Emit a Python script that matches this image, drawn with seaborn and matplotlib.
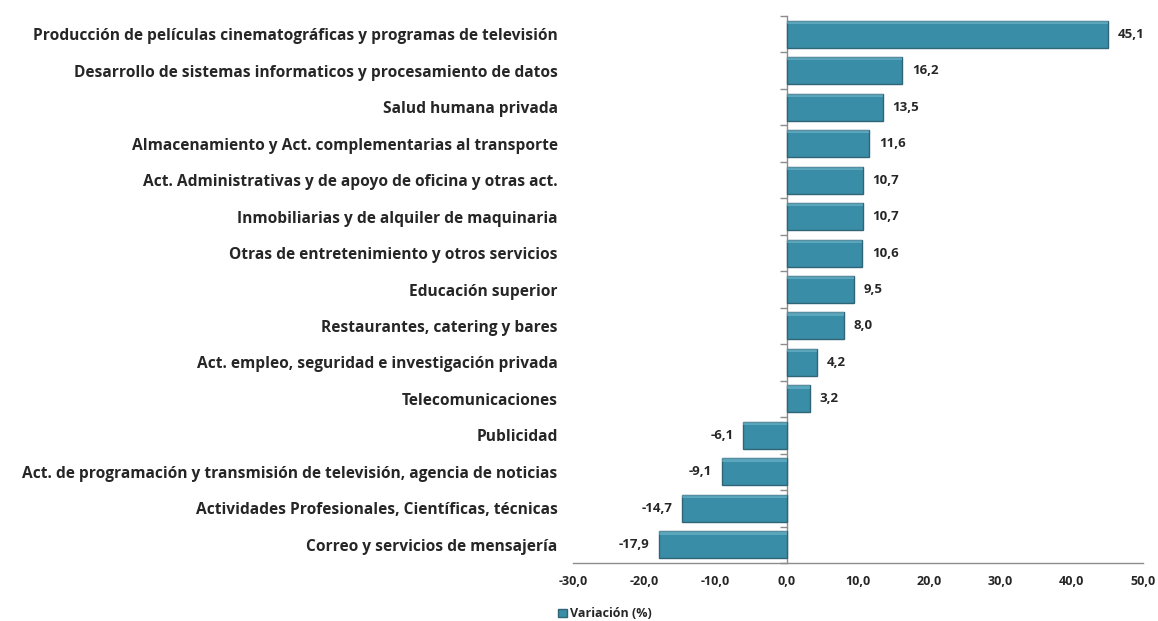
import matplotlib
matplotlib.use("Agg")
import matplotlib.pyplot as plt
import seaborn as sns
import pandas as pd
import numpy as np
from matplotlib.patches import Patch

categorias = [
    "Producción de películas cinematográficas y programas de televisión",
    "Desarrollo de sistemas informaticos y procesamiento de datos",
    "Salud humana privada",
    "Almacenamiento y Act. complementarias al transporte",
    "Act. Administrativas y de apoyo de oficina y otras act.",
    "Inmobiliarias y de alquiler de maquinaria",
    "Otras de entretenimiento y otros servicios",
    "Educación superior",
    "Restaurantes, catering y bares",
    "Act. empleo, seguridad e investigación privada",
    "Telecomunicaciones",
    "Publicidad",
    "Act. de programación y transmisión de televisión, agencia de noticias",
    "Actividades Profesionales, Científicas, técnicas",
    "Correo y servicios de mensajería",
]
variacion = [45.1, 16.2, 13.5, 11.6, 10.7, 10.7, 10.6, 9.5, 8.0, 4.2, 3.2, -6.1, -9.1, -14.7, -17.9]
xticks = [-30, -20, -10, 0, 10, 20, 30, 40, 50]
serie = "Variación (%)"

df = pd.DataFrame({"categoria": categorias, "valor": variacion})

sns.set_style("white")
plt.rcParams["font.family"] = ["Open Sans", "DejaVu Sans"]

fig = plt.figure(figsize=(11.58, 6.21), dpi=100)
ax = fig.add_axes([0.4948, 0.0934, 0.4922, 0.8808])

bar_color = "#3a8da6"
sns.barplot(data=df, x="valor", y="categoria", orient="h", color=bar_color,
            width=0.74, saturation=1, edgecolor="#2f6576", linewidth=1.0, ax=ax)

# subtle bevel highlight
for p in ax.patches:
    x0, y0 = p.get_x(), p.get_y()
    w, h = p.get_width(), p.get_height()
    ax.add_patch(plt.Rectangle((x0, y0), w, h * 0.12, facecolor="#8fd0e2",
                               edgecolor="none", alpha=0.4, zorder=p.get_zorder() + 0.1))

ax.set_xlim(-30, 50)
ax.set_xticks(xticks)
ax.set_xticklabels([f"{t:.1f}".replace(".", ",") for t in xticks],
                   fontsize=9, fontweight="bold")
ax.tick_params(axis="x", direction="out", length=5, color="#8c8c8c", width=1, pad=4)
ax.set_xlabel("")
ax.set_ylabel("")

ax.tick_params(axis="y", length=0, pad=11)
for lbl in ax.get_yticklabels():
    lbl.set_fontsize(11.2)
    lbl.set_fontweight("bold")

for s in ["top", "right", "left"]:
    ax.spines[s].set_visible(False)
ax.spines["bottom"].set_color("#8c8c8c")
ax.spines["bottom"].set_linewidth(1)

# vertical axis at zero with boundary ticks
sec = ax.secondary_yaxis(30 / 80)
n = len(categorias)
sec.set_yticks(np.arange(-0.5, n, 1.0))
sec.set_yticklabels([])
sec.tick_params(direction="out", length=5, color="#8c8c8c", width=1)
sec.spines["left"].set_color("#8c8c8c")
sec.spines["left"].set_linewidth(1)

for i, v in enumerate(variacion):
    txt = f"{v:.1f}".replace(".", ",")
    if v >= 0:
        ax.annotate(txt, (v, i), xytext=(7, 0), textcoords="offset points",
                    ha="left", va="center", fontsize=9.5, fontweight="bold")
    else:
        ax.annotate(txt, (v, i), xytext=(-7, 0), textcoords="offset points",
                    ha="right", va="center", fontsize=9.5, fontweight="bold")

handle = Patch(facecolor=bar_color, edgecolor="#2f6576", label=serie)
fig.legend(handles=[handle], loc="lower left", bbox_to_anchor=(0.472, -0.017),
           frameon=False, prop={"size": 9, "weight": "bold"},
           handlelength=0.7, handleheight=0.7, handletextpad=0.3)

fig.savefig("out.png", dpi=100)
